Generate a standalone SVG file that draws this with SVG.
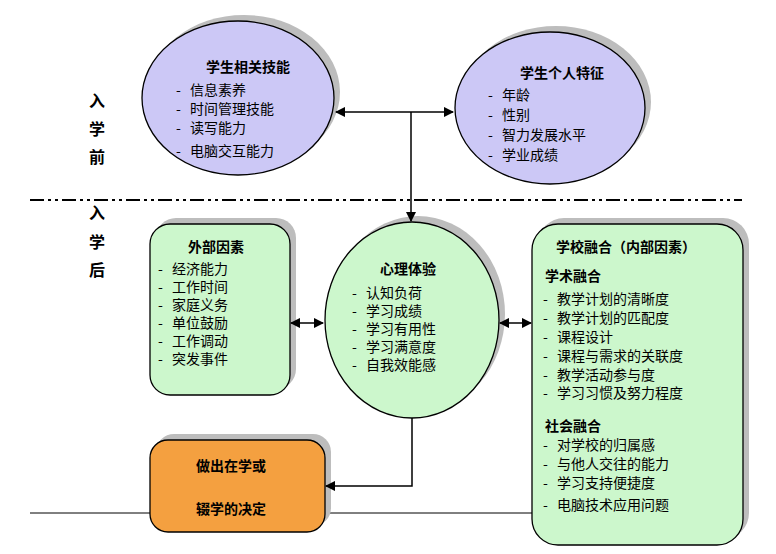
<svg xmlns="http://www.w3.org/2000/svg" width="776" height="554" viewBox="0 0 776 554">
<defs>
<style>
text{font-family:"Noto Sans CJK SC","Liberation Sans",sans-serif;font-size:14px;fill:#000}
.b{font-weight:bold}
.side{font-size:16px;font-weight:bold}
.sh{fill:#bdbdbd}
.pu{fill:#ccc8f6;stroke:#000;stroke-width:1.3}
.gr{fill:#ccf7cc;stroke:#000;stroke-width:1.3}
.ln{stroke:#000;stroke-width:1.5;fill:none}
</style>
<marker id="a" viewBox="0 0 10 10" refX="9" refY="5" markerWidth="7" markerHeight="7" orient="auto-start-reverse"><path d="M0,0L10,5L0,10z" fill="#000"/></marker>
</defs>
<g id="labels">
<text class="side" x="89" y="107">入</text><text class="side" x="89" y="135">学</text><text class="side" x="89" y="163">前</text>
<text class="side" x="89" y="219">入</text><text class="side" x="89" y="248">学</text><text class="side" x="89" y="276">后</text>
</g>
<line x1="30" y1="200" x2="742" y2="200" stroke="#000" stroke-width="2" stroke-dasharray="14,4,3,4,3,4"/>
<line x1="30" y1="513" x2="540" y2="513" stroke="#000" stroke-width="1"/>
<g id="skills">
<ellipse class="sh" cx="244" cy="92" rx="96" ry="77"/>
<ellipse class="pu" cx="238" cy="98" rx="96" ry="77"/>
<text class="b" x="206" y="72">学生相关技能</text>
<text y="95"><tspan x="176">-</tspan><tspan x="190">信息素养</tspan></text>
<text y="114"><tspan x="176">-</tspan><tspan x="190">时间管理技能</tspan></text>
<text y="133"><tspan x="176">-</tspan><tspan x="190">读写能力</tspan></text>
<text y="156"><tspan x="176">-</tspan><tspan x="190">电脑交互能力</tspan></text>
</g>
<g id="personal">
<ellipse class="sh" cx="556" cy="102" rx="95" ry="76"/>
<ellipse class="pu" cx="550" cy="108" rx="95" ry="76"/>
<text class="b" x="520" y="78">学生个人特征</text>
<text y="100"><tspan x="488">-</tspan><tspan x="502">年龄</tspan></text>
<text y="120"><tspan x="488">-</tspan><tspan x="502">性别</tspan></text>
<text y="140"><tspan x="488">-</tspan><tspan x="502">智力发展水平</tspan></text>
<text y="160"><tspan x="488">-</tspan><tspan x="502">学业成绩</tspan></text>
</g>
<g id="external">
<rect class="sh" x="156" y="218" width="140" height="171" rx="20"/>
<rect class="gr" x="150" y="224" width="140" height="171" rx="20"/>
<text class="b" x="188" y="252">外部因素</text>
<text y="274"><tspan x="158">-</tspan><tspan x="172">经济能力</tspan></text>
<text y="292"><tspan x="158">-</tspan><tspan x="172">工作时间</tspan></text>
<text y="310"><tspan x="158">-</tspan><tspan x="172">家庭义务</tspan></text>
<text y="328"><tspan x="158">-</tspan><tspan x="172">单位鼓励</tspan></text>
<text y="346"><tspan x="158">-</tspan><tspan x="172">工作调动</tspan></text>
<text y="364"><tspan x="158">-</tspan><tspan x="172">突发事件</tspan></text>
</g>
<g id="psych">
<ellipse class="sh" cx="418" cy="314" rx="87" ry="98"/>
<ellipse class="gr" cx="412" cy="320" rx="87" ry="98"/>
<text class="b" x="380" y="274">心理体验</text>
<text y="298"><tspan x="352">-</tspan><tspan x="366">认知负荷</tspan></text>
<text y="316"><tspan x="352">-</tspan><tspan x="366">学习成绩</tspan></text>
<text y="334"><tspan x="352">-</tspan><tspan x="366">学习有用性</tspan></text>
<text y="352"><tspan x="352">-</tspan><tspan x="366">学习满意度</tspan></text>
<text y="370"><tspan x="352">-</tspan><tspan x="366">自我效能感</tspan></text>
</g>
<g id="school">
<rect class="sh" x="538" y="218" width="211" height="321" rx="26"/>
<rect class="gr" x="532" y="224" width="211" height="321" rx="26"/>
<text class="b" x="556" y="252">学校融合（内部因素）</text>
<text class="b" x="545" y="281">学术融合</text>
<text y="304"><tspan x="543">-</tspan><tspan x="557">教学计划的清晰度</tspan></text>
<text y="323"><tspan x="543">-</tspan><tspan x="557">教学计划的匹配度</tspan></text>
<text y="342"><tspan x="543">-</tspan><tspan x="557">课程设计</tspan></text>
<text y="361"><tspan x="543">-</tspan><tspan x="557">课程与需求的关联度</tspan></text>
<text y="380"><tspan x="543">-</tspan><tspan x="557">教学活动参与度</tspan></text>
<text y="398"><tspan x="543">-</tspan><tspan x="557">学习习惯及努力程度</tspan></text>
<text class="b" x="545" y="431">社会融合</text>
<text y="450"><tspan x="543">-</tspan><tspan x="557">对学校的归属感</tspan></text>
<text y="469"><tspan x="543">-</tspan><tspan x="557">与他人交往的能力</tspan></text>
<text y="488"><tspan x="543">-</tspan><tspan x="557">学习支持便捷度</tspan></text>
<text y="510"><tspan x="543">-</tspan><tspan x="557">电脑技术应用问题</tspan></text>
</g>
<g id="decision">
<rect class="sh" x="156" y="434" width="175" height="92" rx="18"/>
<rect x="150" y="440" width="175" height="92" rx="18" fill="#f4a040" stroke="#000" stroke-width="1.3"/>
<text class="b" x="196" y="471">做出在学或</text>
<text class="b" x="196" y="514">辍学的决定</text>
</g>
<g id="connectors">
<line class="ln" x1="336" y1="112" x2="453" y2="112" marker-start="url(#a)" marker-end="url(#a)"/>
<line class="ln" x1="411" y1="112" x2="411" y2="221" marker-end="url(#a)"/>
<line class="ln" x1="291" y1="323" x2="323" y2="323" marker-start="url(#a)" marker-end="url(#a)"/>
<line class="ln" x1="500" y1="323" x2="531" y2="323" marker-start="url(#a)" marker-end="url(#a)"/>
<polyline class="ln" points="412,418 412,486 326,486" marker-end="url(#a)"/>
</g>
</svg>
